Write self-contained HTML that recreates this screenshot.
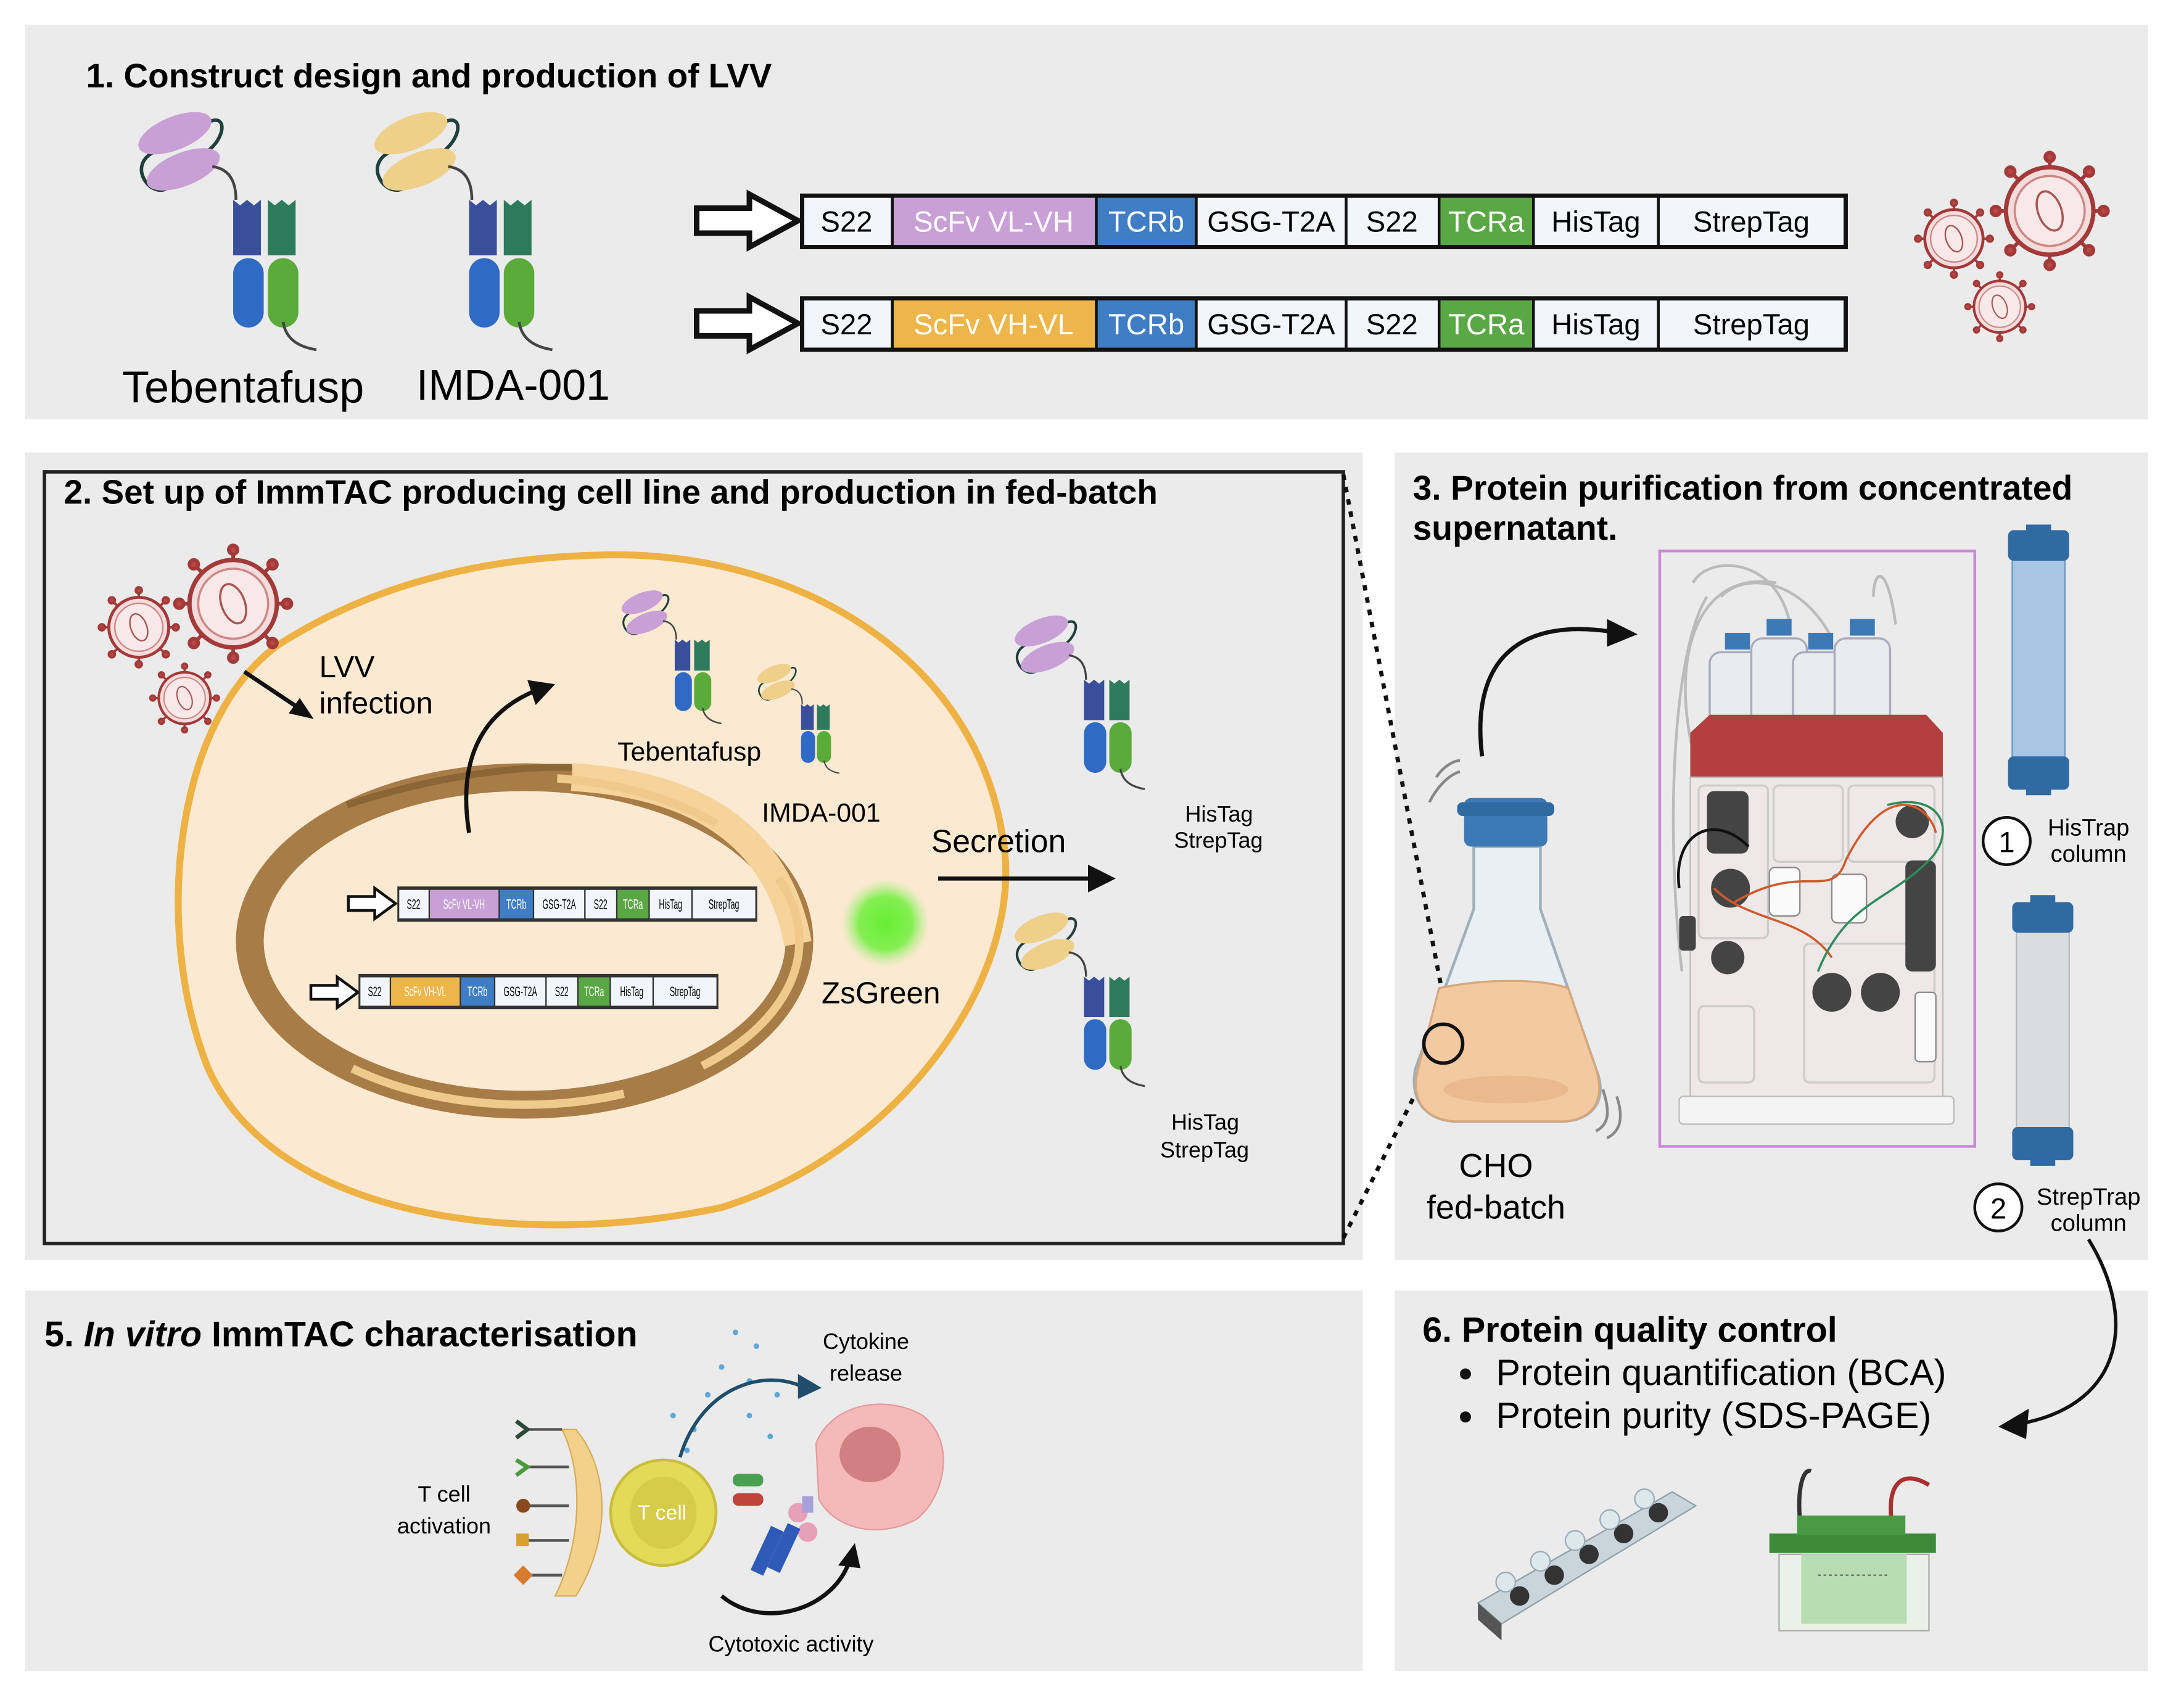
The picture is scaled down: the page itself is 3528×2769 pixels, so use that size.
<!DOCTYPE html>
<html><head><meta charset="utf-8"><style>
html,body{margin:0;padding:0;background:#fff}
svg{display:block}
text{font-family:"Liberation Sans",sans-serif}
</style></head><body>
<svg width="3528" height="2769" viewBox="0 0 1568 1230.7" xmlns="http://www.w3.org/2000/svg">
<defs>
<g id="ab">
  <path d="M52 8 C70 0 62 30 40 34" fill="none" stroke="#1f3f3a" stroke-width="2.5"/>
  <path d="M12 30 C-6 40 10 62 22 56" fill="none" stroke="#1f3f3a" stroke-width="2.5"/>
  <ellipse cx="28" cy="16" rx="28" ry="12" transform="rotate(-22 28 16)" fill="currentColor"/>
  <ellipse cx="34" cy="42" rx="28" ry="12" transform="rotate(-22 34 42)" fill="currentColor"/>
  <path d="M55 40 C70 42 72 55 72 64" fill="none" stroke="#444" stroke-width="2"/>
  <path d="M70 64 l5 4 5-4 5 4 5-4 V104 H70Z" fill="#3a4f9c"/>
  <path d="M95 64 l5 4 5-4 5 4 5-4 V104 H95Z" fill="#2e7a5c"/>
  <rect x="70" y="106" width="22" height="50" rx="11" fill="#2f6ac4"/>
  <rect x="95" y="106" width="22" height="50" rx="11" fill="#5aab3a"/>
  <path d="M106 152 C108 165 118 170 130 172" fill="none" stroke="#444" stroke-width="2"/>
</g>
<g id="vir">
  <g stroke="#a33a3a" stroke-width="2.5" fill="#b84646">
    <line x1="0" y1="-30" x2="0" y2="-36"/><line x1="0" y1="30" x2="0" y2="36"/>
    <line x1="-30" y1="0" x2="-36" y2="0"/><line x1="30" y1="0" x2="36" y2="0"/>
    <line x1="21" y1="21" x2="26" y2="26"/><line x1="-21" y1="21" x2="-26" y2="26"/>
    <line x1="21" y1="-21" x2="26" y2="-26"/><line x1="-21" y1="-21" x2="-26" y2="-26"/>
    <circle cx="0" cy="-37" r="3"/><circle cx="0" cy="37" r="3"/><circle cx="-37" cy="0" r="3"/><circle cx="37" cy="0" r="3"/>
    <circle cx="27" cy="27" r="3"/><circle cx="-27" cy="27" r="3"/><circle cx="27" cy="-27" r="3"/><circle cx="-27" cy="-27" r="3"/>
  </g>
  <circle r="30" fill="#f4dcdc" stroke="#a33a3a" stroke-width="3"/>
  <circle r="24" fill="#f8e8e8" stroke="#c88" stroke-width="1.5"/>
  <ellipse rx="8" ry="14" fill="none" stroke="#a55" stroke-width="1.5" transform="rotate(-20)"/>
</g>
</defs>

<!-- panels -->
<rect x="18" y="18" width="1530" height="284" fill="#ebebeb"/>
<rect x="18" y="326" width="964" height="582" fill="#ebebeb"/>
<rect x="1005" y="326" width="543" height="582" fill="#ebebeb"/>
<rect x="18" y="930" width="964" height="274" fill="#ebebeb"/>
<rect x="1005" y="930" width="543" height="274" fill="#ebebeb"/>

<!-- panel 1 -->
<text x="62" y="63" font-size="24.4" font-weight="bold">1.  Construct design and production of LVV</text>
<use href="#ab" x="98" y="80" style="color:#c9a0d6"/>
<use href="#ab" x="268" y="80" style="color:#efd08a"/>
<text x="88" y="290" font-size="32">Tebentafusp</text>
<text x="300" y="288" font-size="31">IMDA-001</text>

<g stroke="#111" stroke-width="4" fill="#fff">
<path d="M502 150 H540 V140 L575 159 L540 178 V168 H502Z"/>
<path d="M502 224 H540 V214 L575 233 L540 252 V242 H502Z"/>
</g>
<g>
<g transform="translate(578,141)">
<rect width="752" height="37" fill="#f2f5fa" stroke="#111" stroke-width="3"/>
<rect x="65" width="147" height="37" fill="#c9a0d6"/><rect x="212" width="72" height="37" fill="#3f7dc4"/><rect x="459" width="68" height="37" fill="#5aa845"/>
<g stroke="#111" stroke-width="2"><line x1="65" y1="0" x2="65" y2="37"/><line x1="212" y1="0" x2="212" y2="37"/><line x1="284" y1="0" x2="284" y2="37"/><line x1="392" y1="0" x2="392" y2="37"/><line x1="459" y1="0" x2="459" y2="37"/><line x1="527" y1="0" x2="527" y2="37"/><line x1="617" y1="0" x2="617" y2="37"/></g>
<rect width="752" height="37" fill="none" stroke="#111" stroke-width="3"/>
<g font-size="21" text-anchor="middle"><text x="32" y="26">S22</text><text x="138" y="26" fill="#fff">ScFv VL-VH</text><text x="248" y="26" fill="#fff">TCRb</text><text x="338" y="26">GSG-T2A</text><text x="425" y="26">S22</text><text x="493" y="26" fill="#fff">TCRa</text><text x="572" y="26">HisTag</text><text x="684" y="26">StrepTag</text></g>
</g>
<g transform="translate(578,215)">
<rect width="752" height="37" fill="#f2f5fa" stroke="#111" stroke-width="3"/>
<rect x="65" width="147" height="37" fill="#eeb54a"/><rect x="212" width="72" height="37" fill="#3f7dc4"/><rect x="459" width="68" height="37" fill="#5aa845"/>
<g stroke="#111" stroke-width="2"><line x1="65" y1="0" x2="65" y2="37"/><line x1="212" y1="0" x2="212" y2="37"/><line x1="284" y1="0" x2="284" y2="37"/><line x1="392" y1="0" x2="392" y2="37"/><line x1="459" y1="0" x2="459" y2="37"/><line x1="527" y1="0" x2="527" y2="37"/><line x1="617" y1="0" x2="617" y2="37"/></g>
<rect width="752" height="37" fill="none" stroke="#111" stroke-width="3"/>
<g font-size="21" text-anchor="middle"><text x="32" y="26">S22</text><text x="138" y="26" fill="#fff">ScFv VH-VL</text><text x="248" y="26" fill="#fff">TCRb</text><text x="338" y="26">GSG-T2A</text><text x="425" y="26">S22</text><text x="493" y="26" fill="#fff">TCRa</text><text x="572" y="26">HisTag</text><text x="684" y="26">StrepTag</text></g>
</g>
</g>
<use href="#vir" transform="translate(1477,152) scale(1.05)"/>
<use href="#vir" transform="translate(1408,172) scale(0.7)"/>
<use href="#vir" transform="translate(1441,221) scale(0.62)"/>

<!-- panel 2 -->
<rect x="32" y="340" width="936" height="556" fill="none" stroke="#222" stroke-width="2.5"/>
<text x="46" y="363" font-size="24.4" font-weight="bold">2. Set up of ImmTAC producing cell line and production in fed-batch</text>
<path d="M968 342 L1045 745" fill="none" stroke="#111" stroke-width="3" stroke-dasharray="4 5"/>
<path d="M968 892 L1025 778" fill="none" stroke="#111" stroke-width="3" stroke-dasharray="4 5"/>
<path d="M430 400 C570 395 700 470 722 600 C742 700 650 830 520 870 C380 900 200 880 150 770 C110 670 125 520 200 465 C270 420 350 402 430 400Z" fill="#fce9d2" stroke="#eeb244" stroke-width="5"/>
<ellipse cx="378" cy="678" rx="198" ry="118" fill="none" stroke="#a77c46" stroke-width="20"/>
<path d="M412 560 C500 565 560 600 575 680" fill="none" stroke="#f5d39a" stroke-width="20"/>
<ellipse cx="378" cy="678" rx="198" ry="118" fill="none" stroke="#f0c98c" stroke-width="6" stroke-dasharray="120 60 200 400"/>
<path d="M250 580 C320 557 380 552 412 553" fill="none" stroke="#8a6535" stroke-width="5"/>
<use href="#vir" transform="translate(168,435) scale(1.05)"/>
<use href="#vir" transform="translate(100,452) scale(0.72)"/>
<use href="#vir" transform="translate(133,503) scale(0.62)"/>
<path d="M176 484 L218 512" stroke="#111" stroke-width="3"/><path d="M226 518 L208 514 L216 503Z" fill="#111"/>
<text x="230" y="488" font-size="22">LVV</text><text x="230" y="514" font-size="22">infection</text>
<path d="M338 600 C330 550 345 515 385 498" fill="none" stroke="#111" stroke-width="3"/><path d="M400 493 L380 490 L386 508Z" fill="#111"/>
<use href="#ab" transform="translate(447,425) scale(0.56)" style="color:#c9a0d6"/>
<use href="#ab" transform="translate(545,478) scale(0.46)" style="color:#efd08a"/>
<text x="445" y="548" font-size="19">Tebentafusp</text>
<text x="549" y="592" font-size="19">IMDA-001</text>
<use href="#ab" transform="translate(730,443) scale(0.73)" style="color:#c9a0d6"/>
<use href="#ab" transform="translate(730,657) scale(0.73)" style="color:#efd08a"/>
<text x="854" y="592" font-size="16">HisTag</text><text x="846" y="611" font-size="16">StrepTag</text>
<text x="844" y="814" font-size="16">HisTag</text><text x="836" y="834" font-size="16">StrepTag</text>
<text x="671" y="614" font-size="23">Secretion</text>
<path d="M676 633 H786" stroke="#111" stroke-width="3"/><path d="M804 633 L784 623 V643Z" fill="#111"/>
<defs><radialGradient id="zg"><stop offset="0" stop-color="#66ee33"/><stop offset="0.6" stop-color="#77f044" stop-opacity="0.9"/><stop offset="1" stop-color="#aaf088" stop-opacity="0"/></radialGradient></defs>
<ellipse cx="638" cy="665" rx="32" ry="32" fill="url(#zg)"/>
<text x="592" y="723" font-size="22">ZsGreen</text>
<!-- mini bars -->
<path d="M251 646 H270 V640 L285 651 L270 662 V656 H251Z" fill="#fff" stroke="#111" stroke-width="2"/>
<g transform="translate(287,640) scale(0.343,0.62)">
<rect width="752" height="37" fill="#f2f5fa"/>
<rect x="65" width="147" height="37" fill="#c9a0d6"/><rect x="212" width="72" height="37" fill="#3f7dc4"/><rect x="459" width="68" height="37" fill="#5aa845"/>
<g stroke="#333" stroke-width="3"><line x1="65" y1="0" x2="65" y2="37"/><line x1="212" y1="0" x2="212" y2="37"/><line x1="284" y1="0" x2="284" y2="37"/><line x1="392" y1="0" x2="392" y2="37"/><line x1="459" y1="0" x2="459" y2="37"/><line x1="527" y1="0" x2="527" y2="37"/><line x1="617" y1="0" x2="617" y2="37"/></g>
<rect width="752" height="37" fill="none" stroke="#333" stroke-width="4"/>
<g font-size="16" text-anchor="middle"><text x="32" y="24">S22</text><text x="138" y="24" fill="#fff">ScFv VL-VH</text><text x="248" y="24" fill="#fff">TCRb</text><text x="338" y="24">GSG-T2A</text><text x="425" y="24">S22</text><text x="493" y="24" fill="#fff">TCRa</text><text x="572" y="24">HisTag</text><text x="684" y="24">StrepTag</text></g>
</g>
<path d="M224 710 H243 V704 L258 715 L243 726 V720 H224Z" fill="#fff" stroke="#111" stroke-width="2"/>
<g transform="translate(259,703) scale(0.343,0.62)">
<rect width="752" height="37" fill="#f2f5fa"/>
<rect x="65" width="147" height="37" fill="#eeb54a"/><rect x="212" width="72" height="37" fill="#3f7dc4"/><rect x="459" width="68" height="37" fill="#5aa845"/>
<g stroke="#333" stroke-width="3"><line x1="65" y1="0" x2="65" y2="37"/><line x1="212" y1="0" x2="212" y2="37"/><line x1="284" y1="0" x2="284" y2="37"/><line x1="392" y1="0" x2="392" y2="37"/><line x1="459" y1="0" x2="459" y2="37"/><line x1="527" y1="0" x2="527" y2="37"/><line x1="617" y1="0" x2="617" y2="37"/></g>
<rect width="752" height="37" fill="none" stroke="#333" stroke-width="4"/>
<g font-size="16" text-anchor="middle"><text x="32" y="24">S22</text><text x="138" y="24" fill="#fff">ScFv VH-VL</text><text x="248" y="24" fill="#fff">TCRb</text><text x="338" y="24">GSG-T2A</text><text x="425" y="24">S22</text><text x="493" y="24" fill="#fff">TCRa</text><text x="572" y="24">HisTag</text><text x="684" y="24">StrepTag</text></g>
</g>

<!-- panel 3 -->
<text x="1018" y="360" font-size="24.6" font-weight="bold">3. Protein purification from concentrated</text>
<text x="1018" y="389" font-size="24.6" font-weight="bold">supernatant.</text>
<path d="M1068 545 C1060 480 1090 445 1160 455" fill="none" stroke="#111" stroke-width="3"/><path d="M1180 457 L1158 446 L1158 466Z" fill="#111"/>
<!-- flask -->
<path d="M1062 610 V655 L1020 770 C1015 795 1030 808 1050 808 H1125 C1145 808 1160 795 1150 770 L1110 655 V610Z" fill="#e9f0f4" stroke="#9fb0bc" stroke-width="2"/>
<path d="M1037 712 C1070 705 1110 705 1130 712 L1150 770 C1158 795 1145 808 1125 808 H1050 C1030 808 1015 795 1022 770Z" fill="#f2c9a0" stroke="#d8a77a" stroke-width="1.5"/>
<ellipse cx="1085" cy="785" rx="45" ry="10" fill="#eab98e"/>
<rect x="1055" y="575" width="60" height="35" rx="5" fill="#3d79b4"/>
<rect x="1050" y="578" width="70" height="10" rx="4" fill="#2f6aa3"/>
<circle cx="1040" cy="752" r="14" fill="none" stroke="#111" stroke-width="2.5"/>
<path d="M1035 560 C1040 552 1048 548 1052 548 M1030 578 C1036 566 1045 558 1052 556" stroke="#888" stroke-width="2" fill="none"/>
<path d="M1155 785 C1160 800 1160 810 1150 815 M1165 790 C1170 805 1168 815 1158 820" stroke="#888" stroke-width="2" fill="none"/>
<text x="1078" y="848" font-size="24" text-anchor="middle">CHO</text>
<text x="1078" y="878" font-size="24" text-anchor="middle">fed-batch</text>
<!-- AKTA -->
<rect x="1196" y="397" width="227" height="429" fill="none" stroke="#c989d6" stroke-width="2"/>
<path d="M1220 420 C1230 400 1280 400 1290 450 M1240 430 C1260 410 1300 420 1320 460 M1225 560 C1200 480 1220 410 1280 420 M1350 430 C1350 410 1360 405 1366 450 M1212 700 C1200 600 1205 470 1230 430" fill="none" stroke="#bbb" stroke-width="2"/>
<g fill="#e8ecef" stroke="#aab" stroke-width="1.5">
<rect x="1232" y="470" width="40" height="60" rx="8"/><rect x="1262" y="460" width="40" height="70" rx="8"/><rect x="1292" y="470" width="40" height="60" rx="8"/><rect x="1322" y="460" width="40" height="70" rx="8"/>
</g>
<g fill="#3d79b4"><rect x="1243" y="456" width="18" height="12"/><rect x="1273" y="446" width="18" height="12"/><rect x="1303" y="456" width="18" height="12"/><rect x="1333" y="446" width="18" height="12"/></g>
<path d="M1218 528 L1232 515 H1388 L1400 528 V560 H1218Z" fill="#b2403e"/>
<rect x="1218" y="560" width="182" height="232" fill="#eee8e8" stroke="#bbb"/>
<g fill="none" stroke="#ccc" stroke-width="1.5"><rect x="1224" y="566" width="50" height="110" rx="4"/><rect x="1278" y="566" width="50" height="55" rx="4"/><rect x="1332" y="566" width="62" height="55" rx="4"/><rect x="1300" y="680" width="94" height="100" rx="4"/><rect x="1224" y="725" width="40" height="55" rx="4"/></g>
<rect x="1210" y="790" width="198" height="20" rx="3" fill="#f4f4f4" stroke="#bbb"/>
<g fill="#444"><rect x="1230" y="570" width="30" height="45" rx="5"/><circle cx="1247" cy="640" r="14"/><circle cx="1245" cy="690" r="12"/><circle cx="1378" cy="592" r="12"/><rect x="1373" y="620" width="22" height="80" rx="5"/><circle cx="1320" cy="715" r="14"/><circle cx="1355" cy="715" r="14"/><rect x="1210" y="660" width="12" height="25" rx="3"/></g>
<g fill="#fafafa" stroke="#888"><rect x="1275" y="625" width="22" height="35" rx="4"/><rect x="1320" y="630" width="25" height="35" rx="4"/><rect x="1380" y="715" width="15" height="50" rx="3"/></g>
<path d="M1250 650 C1300 620 1320 650 1330 620 C1360 560 1390 580 1395 600 M1235 640 C1260 665 1300 660 1320 690" stroke="#d05a2a" stroke-width="1.6" fill="none"/>
<path d="M1360 580 C1400 570 1410 600 1390 620 C1360 650 1330 650 1310 700" stroke="#2f8a5c" stroke-width="1.6" fill="none"/>
<path d="M1210 640 C1205 600 1235 585 1260 610" stroke="#111" stroke-width="2" fill="none"/>
<!-- columns -->
<rect x="1450" y="400" width="38" height="150" fill="#a8c6e4" stroke="#6b97c3"/>
<rect x="1447" y="382" width="44" height="22" rx="4" fill="#2f6aa3"/><rect x="1447" y="545" width="44" height="24" rx="4" fill="#2f6aa3"/>
<rect x="1460" y="378" width="18" height="6" fill="#2f6aa3"/><rect x="1460" y="567" width="18" height="6" fill="#2f6aa3"/>
<rect x="1453" y="668" width="38" height="150" fill="#dadddf" stroke="#b4b8bc"/>
<rect x="1450" y="650" width="44" height="22" rx="4" fill="#2f6aa3"/><rect x="1450" y="812" width="44" height="24" rx="4" fill="#2f6aa3"/>
<rect x="1463" y="645" width="18" height="6" fill="#2f6aa3"/><rect x="1463" y="834" width="18" height="6" fill="#2f6aa3"/>
<circle cx="1446" cy="606" r="17" fill="#fff" stroke="#111" stroke-width="2"/><text x="1446" y="614" font-size="21" text-anchor="middle">1</text>
<text x="1505" y="602" font-size="17" text-anchor="middle">HisTrap</text><text x="1505" y="621" font-size="17" text-anchor="middle">column</text>
<circle cx="1440" cy="870" r="17" fill="#fff" stroke="#111" stroke-width="2"/><text x="1440" y="878" font-size="21" text-anchor="middle">2</text>
<text x="1505" y="868" font-size="17" text-anchor="middle">StrepTrap</text><text x="1505" y="887" font-size="17" text-anchor="middle">column</text>
<path d="M1505 893 C1540 950 1530 1010 1460 1025" fill="none" stroke="#111" stroke-width="2.5"/><path d="M1440 1028 L1462 1015 L1460 1037Z" fill="#111"/>

<!-- panel 5 -->
<text x="32" y="970" font-size="25.5" font-weight="bold">5. <tspan font-style="italic">In vitro</tspan> ImmTAC characterisation</text>
<text x="624" y="972" font-size="16" text-anchor="middle">Cytokine</text><text x="624" y="995" font-size="16" text-anchor="middle">release</text>
<g fill="#5ea8d8"><circle cx="530" cy="960" r="2"/><circle cx="545" cy="970" r="2"/><circle cx="520" cy="985" r="2"/><circle cx="540" cy="995" r="2"/><circle cx="510" cy="1005" r="2"/><circle cx="500" cy="1030" r="2"/><circle cx="485" cy="1020" r="2"/><circle cx="495" cy="1045" r="2"/><circle cx="540" cy="1020" r="2"/><circle cx="560" cy="1005" r="2"/><circle cx="555" cy="1035" r="2"/><circle cx="480" cy="1065" r="2"/></g>
<path d="M490 1050 C505 1000 550 985 580 1000" fill="none" stroke="#1f4d6a" stroke-width="2.5"/><path d="M592 1000 L575 990 L575 1008Z" fill="#1f4d6a"/>
<path d="M588 1040 C600 1010 640 1005 665 1020 C690 1040 680 1080 660 1095 C630 1110 600 1100 590 1080Z" fill="#f5b9b9" stroke="#e59a9a"/>
<ellipse cx="627" cy="1048" rx="22" ry="20" fill="#d08080"/>
<path d="M415 1030 C440 1060 440 1110 415 1150 L400 1150 C420 1110 420 1060 405 1030Z" fill="#f2d28a" stroke="#d9ab5a"/>
<g stroke="#555" stroke-width="2"><line x1="380" y1="1030" x2="405" y2="1030"/><line x1="380" y1="1057" x2="410" y2="1057"/><line x1="380" y1="1085" x2="410" y2="1085"/><line x1="380" y1="1110" x2="410" y2="1110"/><line x1="380" y1="1135" x2="405" y2="1135"/></g>
<g><path d="M372 1024 L380 1030 L372 1036" fill="none" stroke="#2b4a3a" stroke-width="3"/><path d="M372 1052 L380 1057 L372 1063" fill="none" stroke="#4a9a3a" stroke-width="3"/><circle cx="377" cy="1085" r="5" fill="#8a4a20"/><rect x="372" y="1105" width="9" height="9" fill="#d8a030"/><path d="M377 1128 L384 1135 L377 1142 L370 1135Z" fill="#d87a30"/></g>
<text x="320" y="1082" font-size="16" text-anchor="middle">T cell</text><text x="320" y="1105" font-size="16" text-anchor="middle">activation</text>
<ellipse cx="478" cy="1090" rx="38" ry="38" fill="#e4da5a" stroke="#c9bd3a" stroke-width="2"/>
<ellipse cx="478" cy="1090" rx="24" ry="26" fill="#d6cb4a"/>
<text x="477" y="1095" font-size="15" fill="#fff" text-anchor="middle">T cell</text>
<rect x="528" y="1062" width="22" height="9" rx="4" fill="#4aa050"/><rect x="528" y="1076" width="22" height="9" rx="4" fill="#c0443a"/>
<circle cx="575" cy="1090" r="7" fill="#e6a0b8"/><circle cx="582" cy="1104" r="7" fill="#e6a0b8"/><rect x="578" y="1078" width="8" height="12" fill="#a8a0d8"/>
<rect x="548" y="1100" width="10" height="35" fill="#2f5ab8" transform="rotate(25 553 1117)"/><rect x="560" y="1098" width="10" height="35" fill="#2f5ab8" transform="rotate(25 565 1115)"/>
<path d="M520 1150 C550 1175 600 1160 612 1125" fill="none" stroke="#111" stroke-width="3"/><path d="M616 1112 L604 1128 L620 1130Z" fill="#111"/>
<text x="570" y="1190" font-size="16" text-anchor="middle">Cytotoxic activity</text>

<!-- panel 6 -->
<text x="1025" y="967" font-size="25.5" font-weight="bold">6. Protein quality control</text>
<circle cx="1056" cy="990" r="4" fill="#111"/><text x="1078" y="998" font-size="26.3">Protein quantification (BCA)</text>
<circle cx="1056" cy="1021" r="4" fill="#111"/><text x="1078" y="1029" font-size="26.3">Protein purity (SDS-PAGE)</text>
<path d="M1065 1155 L1205 1075 L1222 1085 L1082 1170Z" fill="#c9d5da" stroke="#8fa0a8"/>
<path d="M1065 1155 L1082 1170 L1082 1182 L1065 1167Z" fill="#555"/>
<g fill="#333"><circle cx="1095" cy="1150" r="7"/><circle cx="1120" cy="1135" r="7"/><circle cx="1145" cy="1120" r="7"/><circle cx="1170" cy="1105" r="7"/><circle cx="1195" cy="1090" r="7"/></g>
<g fill="#dde8ec" stroke="#9ab"><circle cx="1085" cy="1140" r="7"/><circle cx="1110" cy="1125" r="7"/><circle cx="1135" cy="1110" r="7"/><circle cx="1160" cy="1095" r="7"/><circle cx="1185" cy="1080" r="7"/></g>
<path d="M1297 1095 C1295 1070 1300 1058 1305 1060" fill="none" stroke="#333" stroke-width="3"/>
<path d="M1363 1095 C1360 1070 1370 1058 1390 1070" fill="none" stroke="#a83030" stroke-width="3"/>
<rect x="1282" y="1120" width="108" height="55" fill="#e8f2e8" stroke="#aaa"/>
<rect x="1298" y="1120" width="76" height="50" fill="#b8dcb4"/>
<rect x="1275" y="1105" width="120" height="14" fill="#3e8a3a"/>
<rect x="1295" y="1092" width="78" height="14" fill="#4a9a44"/>
<line x1="1310" y1="1135" x2="1362" y2="1135" stroke="#666" stroke-dasharray="2 2"/>
</svg>
</body></html>
